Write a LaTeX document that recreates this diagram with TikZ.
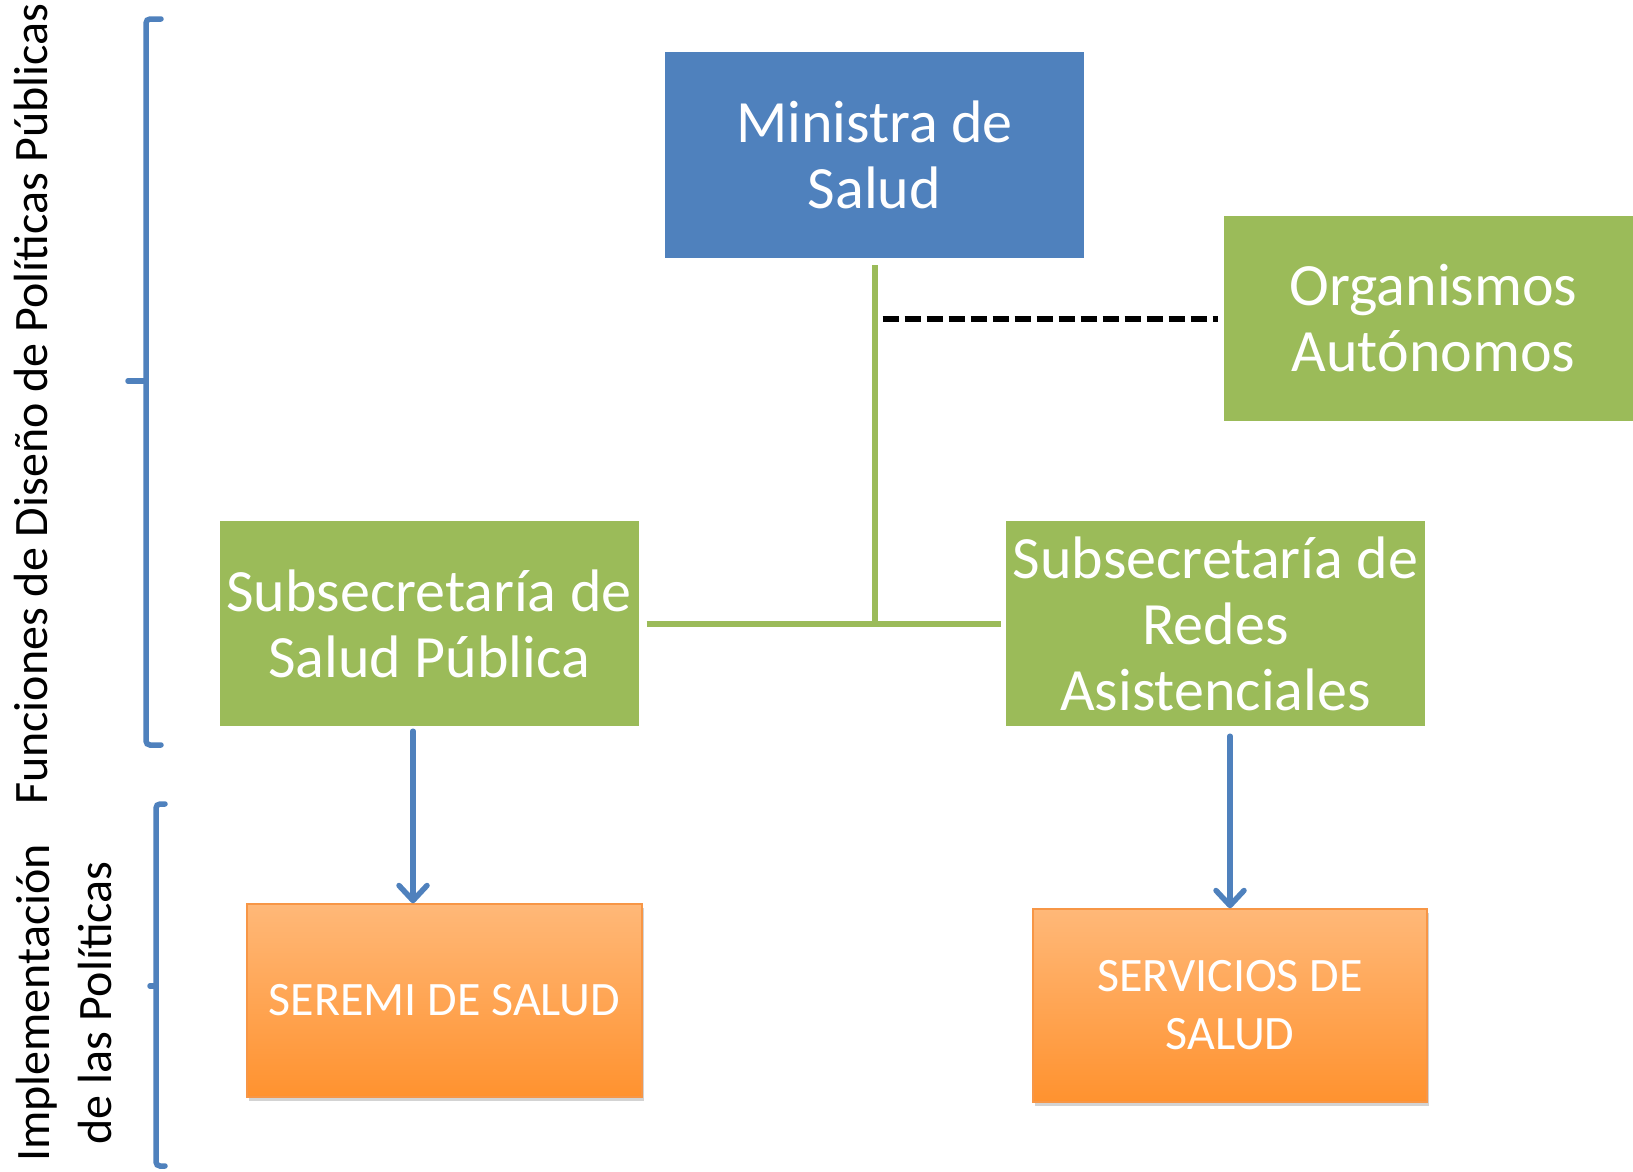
\documentclass[tikz,border=0pt]{standalone}
\usepackage{fontspec}
\setmainfont{Carlito}
\usepackage{tikz}
\usetikzlibrary{arrows,arrows.meta,shadows}
\definecolor{msblue}{HTML}{4F81BD}
\definecolor{msgreen}{HTML}{9BBB59}
\definecolor{msorange}{HTML}{F79646}
\definecolor{orangetop}{HTML}{FFB878}
\definecolor{orangebot}{HTML}{FF922F}

\begin{document}
\begin{tikzpicture}[x=1pt,y=-1pt]
    \tikzset{box/.style = {shape=rectangle, text=white, align=center, inner sep=0pt,
        font=\fontsize{60}{66}\selectfont}}
    \tikzset{boss/.style = {box, fill=msblue, minimum width=419pt, minimum height=206pt}}
    \tikzset{unit/.style = {box, fill=msgreen, minimum width=419pt, minimum height=205pt}}
    \tikzset{field/.style = {box, draw=msorange, line width=1.5pt, top color=orangetop,
        bottom color=orangebot, minimum width=394pt, minimum height=193pt,
        font=\fontsize{48}{58}\selectfont,
        drop shadow={shadow xshift=2pt, shadow yshift=-4pt, opacity=0.35}}}
    \tikzset{link/.style = {draw=msgreen, line width=6pt, -}}
    \tikzset{dashlink/.style = {draw=black, line width=6pt, dash pattern=on 16pt off 6pt}}
    \tikzset{arr/.style = {draw=msblue, line width=5.5pt, line cap=round,
        -{Straight Barb[length=15pt,width=28pt,round]}}}
    \tikzset{brace/.style = {draw=msblue, line width=5.5pt, rounded corners=4pt, line cap=round}}
    \tikzset{side/.style = {rotate=90, align=center, font=\fontsize{48}{62}\selectfont}}

    \useasboundingbox (0,0) rectangle (1633,1171);

    % vertices
    \node[boss] (ministra) at (874.5,155) {Ministra de\\Salud};
    \node[unit] (organismos) at (1433.5,318.5) {Organismos\\Autónomos};
    \node[unit] (publica) at (429,623.5) {Subsecretaría de\\Salud Pública};
    \node[unit] (redes) at (1215.5,623.5) {Subsecretaría de\\Redes\\Asistenciales};
    \node[field, minimum width=395pt] (seremi) at (444.5,1000.5) {SEREMI DE SALUD};
    \node[field] (servicios) at (1230,1005.5) {SERVICIOS DE\\SALUD};
    \coordinate (cruce) at (ministra.south |- publica.east);

    % side labels
    \node[side] (disenio) at (31,404) {Funciones de Diseño de Políticas Públicas};
    \node[side] (implem) at (64,1003) {Implementación\\de las Políticas};

    % edges
    \draw[link, shorten <=7pt] (ministra.south) -- (cruce);
    \draw[link, shorten <=8pt, shorten >=5pt] (publica.east) -- (redes.west);
    \draw[dashlink, shorten <=8pt, shorten >=6pt] (ministra.south |- organismos.west) -- (organismos.west);
    \draw[arr, shorten <=5pt] ([xshift=-16pt]publica.south) -- ([xshift=-16pt]publica.south |- seremi.north);
    \draw[arr, shorten <=10pt] ([xshift=14.5pt]redes.south) -- ([xshift=14.5pt]redes.south |- servicios.north);

    % braces
    \draw[brace] (161,19) -- (146,19) -- (146,745) -- (161,745);
    \draw[brace] (146,381) -- (128,381);
    \draw[brace] (165,804) -- (156,804) -- (156,1166) -- (165,1166);
    \draw[brace] (156,986) -- (150,986);
\end{tikzpicture}
\end{document}
